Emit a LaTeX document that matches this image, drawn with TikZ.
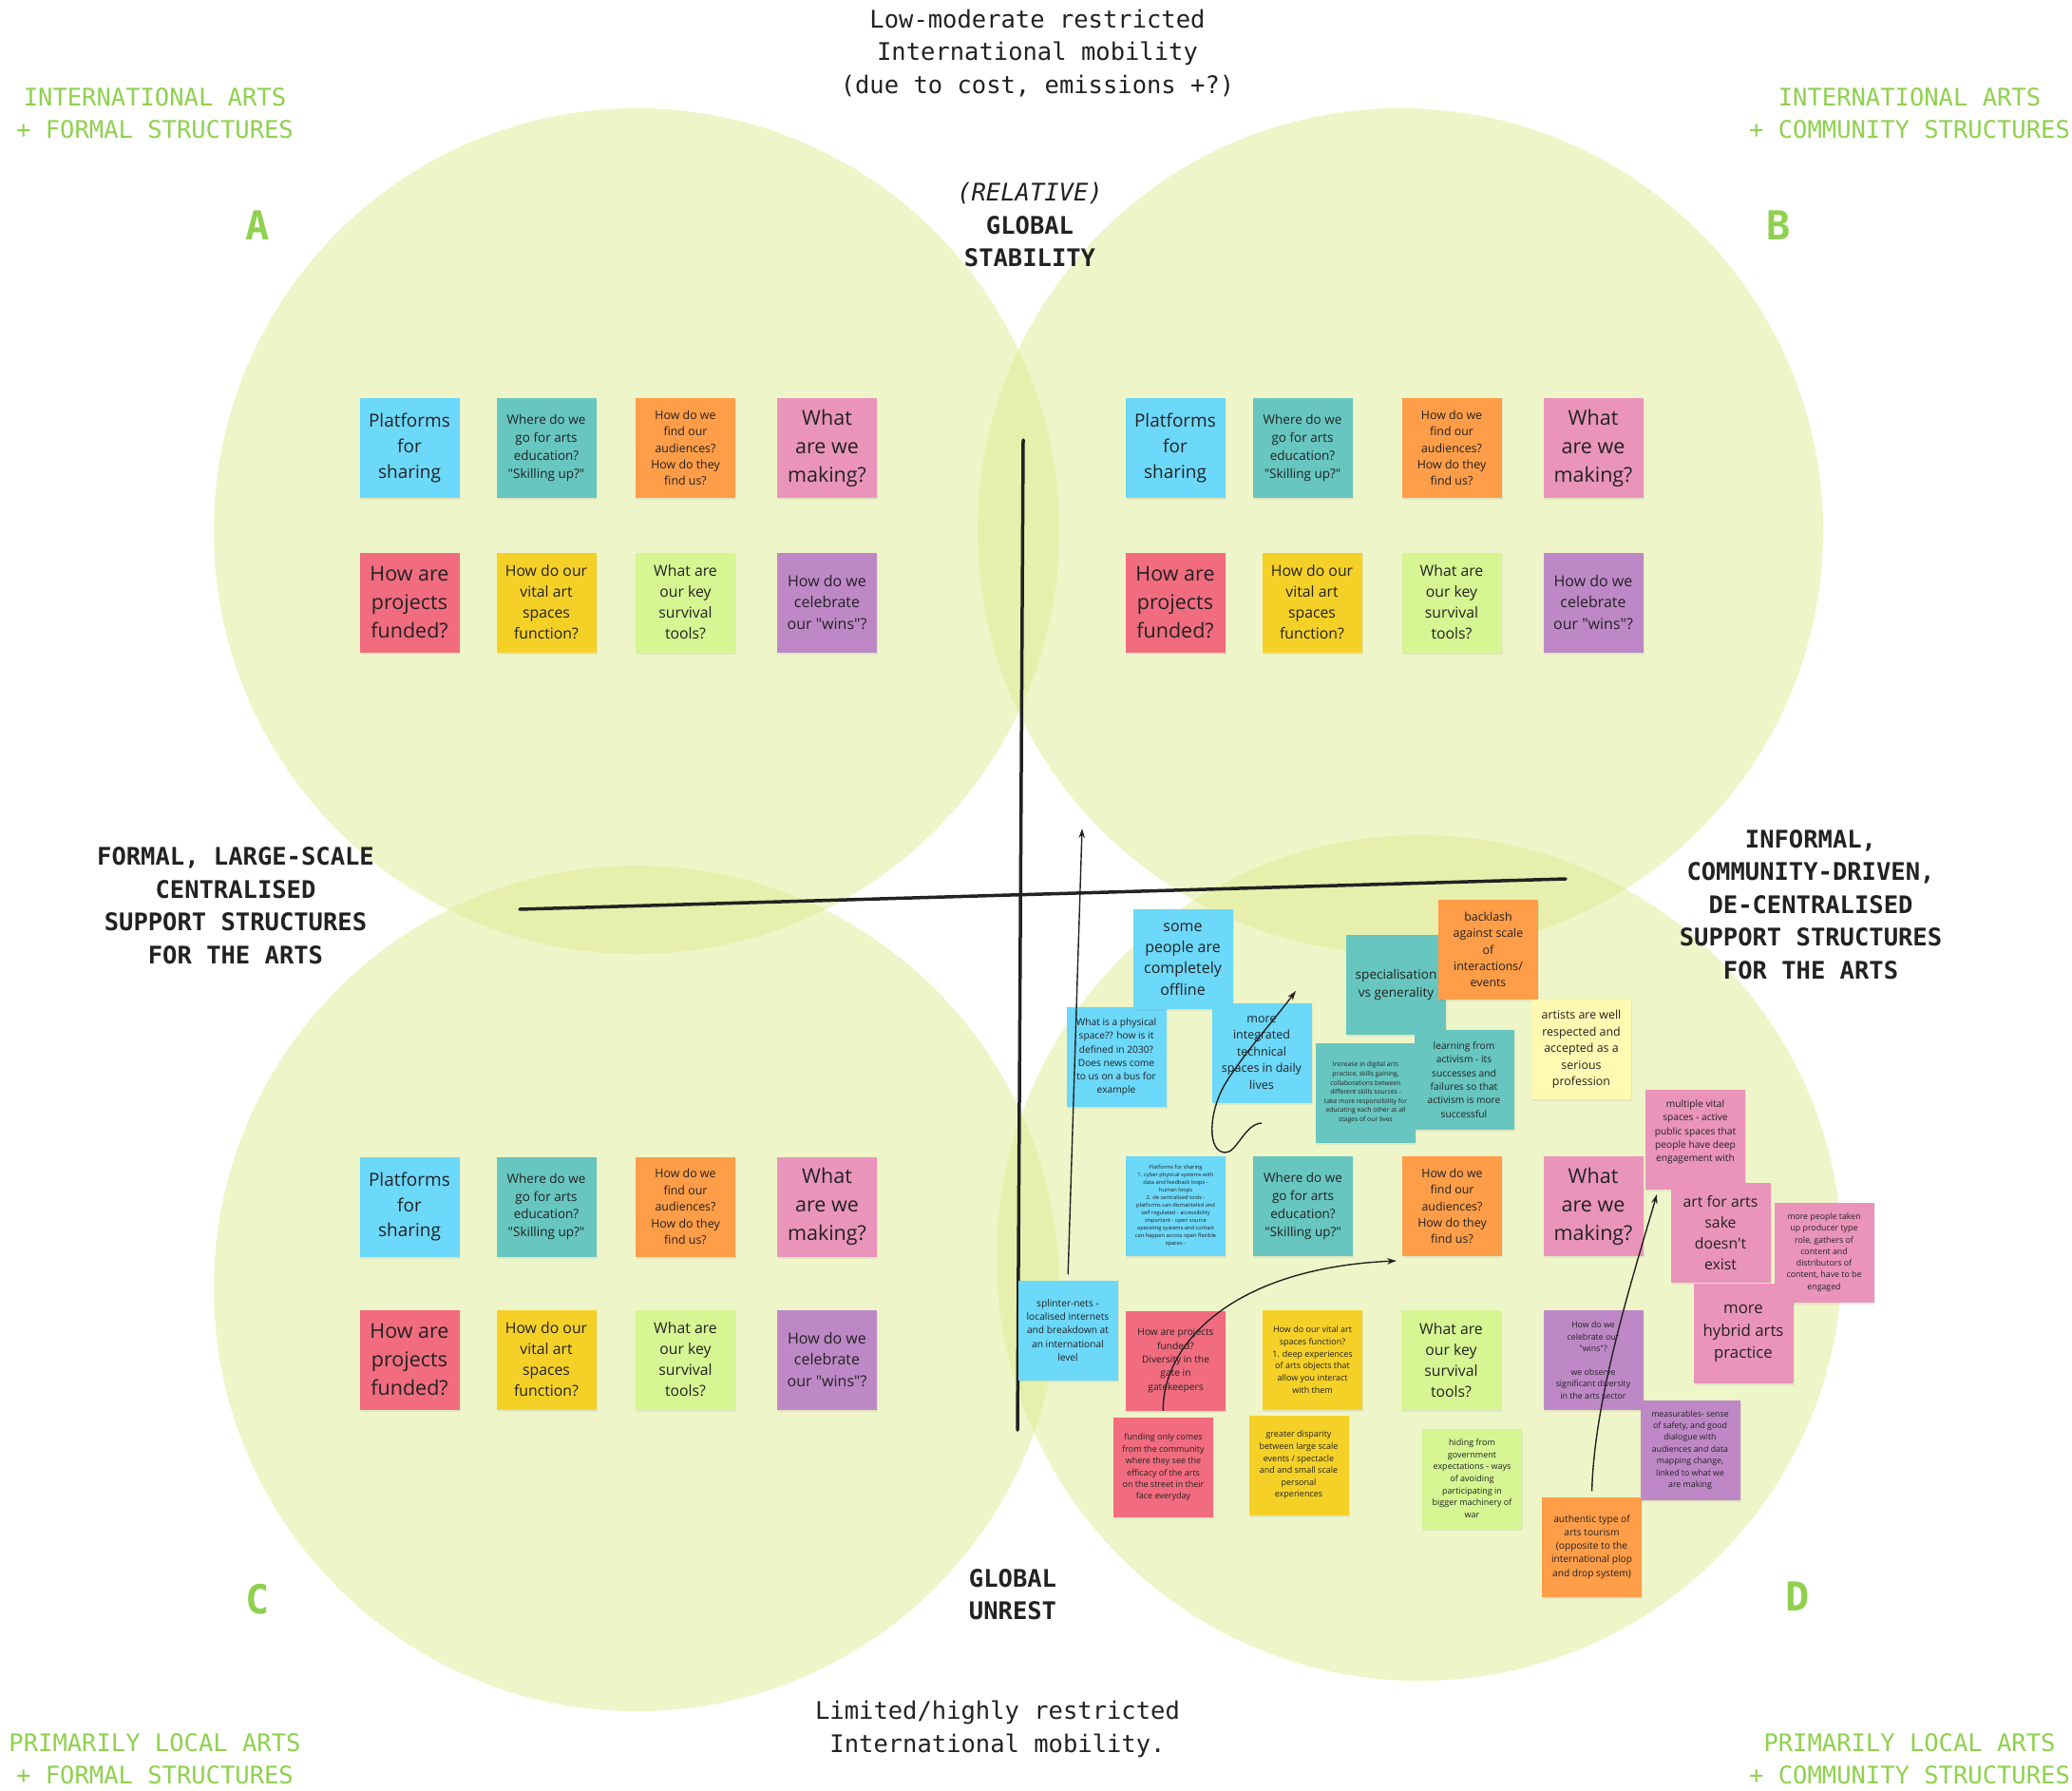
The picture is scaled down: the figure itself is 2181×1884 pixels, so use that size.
\documentclass[tikz,border=0pt]{standalone}
\usepackage{fontspec}
\setmainfont{Open Sans}
\newfontfamily\notefont{Open Sans}
\newfontfamily\monof{DejaVu Sans Mono}
\usetikzlibrary{arrows.meta,shadows}
\definecolor{circ}{HTML}{DFEC92}
\definecolor{cblue}{HTML}{6CD8FA}
\definecolor{cteal}{HTML}{67C6C0}
\definecolor{corange}{HTML}{FF9D48}
\definecolor{cpink}{HTML}{EA94BB}
\definecolor{cred}{HTML}{F16C7F}
\definecolor{cyellow}{HTML}{F5D128}
\definecolor{cgreen}{HTML}{D5F692}
\definecolor{cviolet}{HTML}{BE88C7}
\definecolor{cpale}{HTML}{FFF9B1}
\definecolor{lgreen}{HTML}{8FD14F}
\definecolor{ink}{HTML}{222222}
\newcommand\notefs[2]{\notefont\fontsize{#1}{#2}\selectfont}
\newcommand\monofs{\monof\fontsize{25.5}{34.5}\selectfont}
\tikzset{
  note/.style={minimum width=105pt, minimum height=105pt, inner sep=0pt,
    align=center, text=ink,
    drop shadow={shadow xshift=1.2pt, shadow yshift=-2.2pt, opacity=0.12}},
  lab/.style={align=center, text=ink, font=\monofs},
  glab/.style={align=center, text=lgreen, font=\monofs},
  bigl/.style={text=lgreen, font=\monof\bfseries\fontsize{42}{42}\selectfont},
  axis/.style={draw=ink, line width=3.5pt, line cap=round},
  arr/.style={draw=ink, line width=1.4pt, -{Stealth[length=10pt,width=6.5pt]}},
}
% #1 prefix, #2 x1, #3 x2, #4 x2 (row 2), #5 x3, #6 x4, #7 y1, #8 y2
\newcommand\stdgrid[8]{%
  \node[note,fill=cblue,font=\notefs{19}{26.6}] (#1pf) at (#2,#7) {Platforms\\for\\sharing};
  \node[note,fill=cteal,font=\notefs{13.5}{18.9}] (#1ed) at (#3,#7) {Where do we\\go for arts\\education?\\"Skilling up?"};
  \node[note,fill=corange,font=\notefs{12.4}{17.4}] (#1au) at (#5,#7) {How do we\\find our\\audiences?\\How do they\\find us?};
  \node[note,fill=cpink,font=\notefs{21.5}{30}] (#1mk) at (#6,#7) {What\\are we\\making?};
  \node[note,fill=cred,font=\notefs{21.5}{30}] (#1fu) at (#2,#8) {How are\\projects\\funded?};
  \node[note,fill=cyellow,font=\notefs{15.8}{22}] (#1vs) at (#4,#8) {How do our\\vital art\\spaces\\function?};
  \node[note,fill=cgreen,font=\notefs{15.8}{22}] (#1st) at (#5,#8) {What are\\our key\\survival\\tools?};
  \node[note,fill=cviolet,font=\notefs{16}{22.4}] (#1cw) at (#6,#8) {How do we\\celebrate\\our "wins"?};
}
\begin{document}
\begin{tikzpicture}[x=1pt,y=-1pt]
\useasboundingbox[fill=white] (0,0) rectangle (2181,1884);

% circles
\fill[circ, fill opacity=0.5] (670,559) circle[radius=445];
\fill[circ, fill opacity=0.5] (1474,559) circle[radius=445];
\fill[circ, fill opacity=0.5] (670,1356) circle[radius=445];
\fill[circ, fill opacity=0.5] (1494,1324) circle[radius=445];

% axes
\coordinate (vTop) at (1077,463);
\coordinate (vBot) at (1071,1505);
\coordinate (hL) at (547,957);
\coordinate (hR) at (1648,925);
\draw[axis] (vTop) -- (vBot);
\draw[axis] (hL) -- (hR);

% labels
\node[lab] (topl) at (1092,56) {Low-moderate restricted\\International mobility\\(due to cost, emissions +?)};
\node[lab] (stab) at (1084,237) {\itshape (RELATIVE)\\\bfseries GLOBAL\\\bfseries STABILITY};
\node[lab, font=\monofs\bfseries] (left) at (248,953) {FORMAL, LARGE-SCALE\\CENTRALISED\\SUPPORT STRUCTURES\\FOR THE ARTS};
\node[lab, font=\monofs\bfseries] (right) at (1906,952) {INFORMAL,\\COMMUNITY-DRIVEN,\\DE-CENTRALISED\\SUPPORT STRUCTURES\\FOR THE ARTS};
\node[lab, font=\monofs\bfseries] (unrest) at (1066,1678) {GLOBAL\\UNREST};
\node[lab] (botl) at (1050,1820) {Limited/highly restricted\\International mobility.};
\node[glab] (qa) at (163,119) {INTERNATIONAL ARTS\\+ FORMAL STRUCTURES};
\node[glab] (qb) at (2010,119) {INTERNATIONAL ARTS\\+ COMMUNITY STRUCTURES};
\node[glab] (qc) at (163,1851) {PRIMARILY LOCAL ARTS\\+ FORMAL STRUCTURES};
\node[glab] (qd) at (2010,1851) {PRIMARILY LOCAL ARTS\\+ COMMUNITY STRUCTURES};
\node[bigl] (LA) at (271,237) {A};
\node[bigl] (LB) at (1872,237) {B};
\node[bigl] (LC) at (271,1683) {C};
\node[bigl] (LD) at (1892,1680) {D};

% standard grids
\stdgrid{A}{431}{575}{575}{721.5}{870.5}{471.5}{634}
\stdgrid{B}{1237}{1371}{1381}{1528}{1677}{471.5}{634}
\stdgrid{C}{431}{575}{575}{721.5}{870.5}{1270}{1431}

% quadrant D notes
\node[note,fill=cblue,font=\notefs{10.2}{14.3}] (dphys) at (1175,1112.5) {What is a physical\\space?? how is it\\defined in 2030?\\Does news come\\to us on a bus for\\example};
\node[note,fill=cblue,font=\notefs{16}{22.4}] (doff) at (1245,1009.5) {some\\people are\\completely\\offline};
\node[note,fill=cblue,font=\notefs{12.5}{17.4}] (dint) at (1328,1108) {more\\integrated\\technical\\spaces in daily\\lives};
\node[note,fill=cteal,font=\notefs{13.6}{19}] (dspec) at (1469.5,1036) {specialisation\\vs generality};
\node[note,fill=corange,font=\notefs{12.4}{17.4}] (dback) at (1566.5,999.5) {backlash\\against scale\\of\\interactions/\\events};
\node[note,fill=cteal,font=\notefs{6.8}{9.6}] (dinc) at (1437.5,1150) {Increase in digital arts\\practice, skills gaining,\\collaborations between\\different skills sources -\\take more responsibility for\\educating each other at all\\stages of our lives};
\node[note,fill=cteal,font=\notefs{10.2}{14.3}] (dlearn) at (1541,1136.5) {learning from\\activism - its\\successes and\\failures so that\\activism is more\\successful};
\node[note,fill=cpale,font=\notefs{12.4}{17.4}] (dresp) at (1664.5,1104.5) {artists are well\\respected and\\accepted as a\\serious\\profession};
\node[note,fill=cpink,font=\notefs{10.2}{14.3}] (dmult) at (1784.5,1199.5) {multiple vital\\spaces - active\\public spaces that\\people have deep\\engagement with\\[4pt]};
\node[note,fill=cpink,font=\notefs{15.8}{22}] (dsake) at (1811,1297.5) {art for arts\\sake\\doesn't\\exist};
\node[note,fill=cpink,font=\notefs{8.8}{12.3}] (dprod) at (1920,1318) {more people taken\\up producer type\\role, gathers of\\content and\\distributors of\\content, have to be\\engaged};
\node[note,fill=cpink,font=\notefs{16.8}{23.4}] (dhyb) at (1835,1403.5) {more\\hybrid arts\\practice};

\node[note,fill=cblue,font=\notefs{5.7}{8}] (dplat) at (1237.5,1269) {Platforms for sharing\\1. cyber physical systems with\\data and feedback loops -\\human loops\\2. de centralised tools -\\platforms can dismanteled and\\self regulated - accessibility\\important - open source\\operating systems and contact\\can happen across open flexible\\spaces -};
\node[note,fill=cteal,font=\notefs{13.5}{18.9}] (ded) at (1371.5,1269.5) {Where do we\\go for arts\\education?\\"Skilling up?"};
\node[note,fill=corange,font=\notefs{12.4}{17.4}] (dau) at (1528.5,1269.5) {How do we\\find our\\audiences?\\How do they\\find us?};
\node[note,fill=cpink,font=\notefs{21.5}{30}] (dmk) at (1677,1269.5) {What\\are we\\making?};

\node[note,fill=cblue,font=\notefs{10.2}{14.3}] (dspl) at (1124,1400) {splinter-nets -\\localised internets\\and breakdown at\\an international\\level};
\node[note,fill=cred,font=\notefs{10.2}{14.3}] (dfu) at (1237.5,1432) {How are projects\\funded?\\Diversity in the\\gate in\\gatekeepers};
\node[note,fill=cyellow,font=\notefs{9}{12.7}] (dvs) at (1381.5,1431) {How do our vital art\\spaces function?\\1. deep experiences\\of arts objects that\\allow you interact\\with them};
\node[note,fill=cgreen,font=\notefs{15.8}{22}] (dst) at (1527.5,1431.5) {What are\\our key\\survival\\tools?};
\node[note,fill=cviolet,font=\notefs{8.8}{12.4}] (dcw) at (1677,1431.5) {How do we\\celebrate our\\"wins"?\\[12.4pt]we observe\\significant diversity\\in the arts sector};

\node[note,fill=cred,font=\notefs{9}{12.4}] (dcomm) at (1224.5,1544.5) {funding only comes\\from the community\\where they see the\\efficacy of the arts\\on the street in their\\face everyday};
\node[note,fill=cyellow,font=\notefs{9}{12.6}] (ddisp) at (1367,1542) {greater disparity\\between large scale\\events / spectacle\\and and small scale\\personal\\experiences};
\node[note,fill=cgreen,font=\notefs{9}{12.7}] (dhide) at (1549.5,1556) {hiding from\\government\\expectations - ways\\of avoiding\\participating in\\bigger machinery of\\war};
\node[note,fill=cviolet,font=\notefs{8.8}{12.4}] (dmeas) at (1779,1526) {measurables- sense\\of safety, and good\\dialogue with\\audiences and data\\mapping change,\\linked to what we\\are making};
\node[note,fill=corange,font=\notefs{10.2}{14.3}] (dtour) at (1675.5,1628) {authentic type of\\arts tourism\\(opposite to the\\international plop\\and drop system)};

% hand-drawn arrows
\coordinate (aEnd) at (1139,872);
\draw[arr, shorten <=6pt] (dspl.north) -- (aEnd);

\coordinate (bEnd) at (1470,1327);
\draw[arr, shorten <=7pt] (dcomm.north) .. controls (1223,1420) and (1290,1335) .. (bEnd);

\coordinate (c0) at (1328,1182);
\coordinate (c1) at (1290,1213);
\coordinate (c2) at (1290,1140);
\coordinate (cEnd) at (1364,1043);
\draw[arr] (c0) .. controls (1310,1183) and (1302,1213) .. (c1)
  .. controls (1270,1213) and (1272,1170) .. (c2)
  .. controls (1310,1108) and (1340,1075) .. (cEnd);

\coordinate (dEnd) at (1744,1257);
\draw[arr, shorten <=6pt] (dtour.north) .. controls (1678,1470) and (1720,1340) .. (dEnd);
\end{tikzpicture}
\end{document}
